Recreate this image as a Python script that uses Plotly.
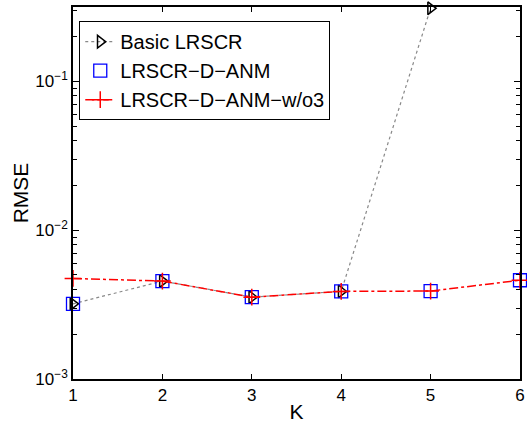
import plotly.graph_objects as go

K = [1, 2, 3, 4, 5, 6]
basic_lrscr = [0.0032, 0.00455, 0.00355, 0.00388, 0.31]
lrscr_d_anm = [0.0032, 0.00455, 0.00355, 0.00388, 0.0039, 0.00461]
lrscr_d_anm_wo3 = [0.00474, 0.00455, 0.00355, 0.00388, 0.0039, 0.00461]

ytick_vals = [1e-3, 1e-2, 1e-1]
ytick_text = ["10<sup>\u22123</sup>", "10<sup>\u22122</sup>", "10<sup>\u22121</sup>"]

font = "Liberation Sans, Arial, Helvetica, sans-serif"

fig = go.Figure()
fig.add_trace(go.Scatter(
    x=K[:len(basic_lrscr)], y=basic_lrscr, name="Basic LRSCR", mode="lines+markers",
    line=dict(color="#888888", dash="dot", width=1.2),
    marker=dict(symbol="triangle-right-open", size=11, color="black", line=dict(width=1.5, color="black")),
    cliponaxis=False,
))
fig.add_trace(go.Scatter(
    x=K, y=lrscr_d_anm, name="LRSCR\u2212D\u2212ANM", mode="markers",
    marker=dict(symbol="square-open", size=13, color="blue", line=dict(width=1.3, color="blue")),
    cliponaxis=False,
))
fig.add_trace(go.Scatter(
    x=K, y=lrscr_d_anm_wo3, name="LRSCR\u2212D\u2212ANM\u2212w/o3", mode="lines+markers",
    line=dict(color="red", dash="dashdot", width=1.5),
    marker=dict(symbol="cross-thin-open", size=12, color="red", line=dict(width=1.5, color="red")),
    cliponaxis=False,
))

fig.update_layout(
    width=527, height=423,
    margin=dict(l=73, r=7, t=7, b=44),
    paper_bgcolor="white", plot_bgcolor="white",
    font=dict(family=font, size=17, color="black"),
    showlegend=True,
    legend=dict(
        x=0.014, y=0.962, xanchor="left", yanchor="top",
        bgcolor="white", bordercolor="black", borderwidth=1,
        font=dict(size=20, family=font), tracegroupgap=0, itemwidth=30,
    ),
    xaxis=dict(
        range=[1, 6], tickvals=K, ticks="inside", ticklen=5, tickcolor="black",
        showline=True, linecolor="black", linewidth=1.5, mirror="ticks",
        showgrid=False, zeroline=False, automargin=False, ticklabeloverflow="allow",
        title=dict(text="K", font=dict(size=21), standoff=2),
        tickfont=dict(size=17),
    ),
    yaxis=dict(
        type="log", range=[-3, -0.5], tickmode="array", tickvals=ytick_vals, ticktext=ytick_text,
        ticks="inside", ticklen=6, tickcolor="black",
        minor=dict(ticks="inside", ticklen=4, tickcolor="black", showgrid=False, dtick="D1"),
        showline=True, linecolor="black", linewidth=1.5, mirror="ticks",
        showgrid=False, zeroline=False, automargin=False, ticklabeloverflow="allow",
        title=dict(text="RMSE", font=dict(size=21), standoff=1),
        tickfont=dict(size=17),
    ),
)

fig.write_html("out.html", post_script="document.body.style.margin='0';",
               config={"displayModeBar": False})
